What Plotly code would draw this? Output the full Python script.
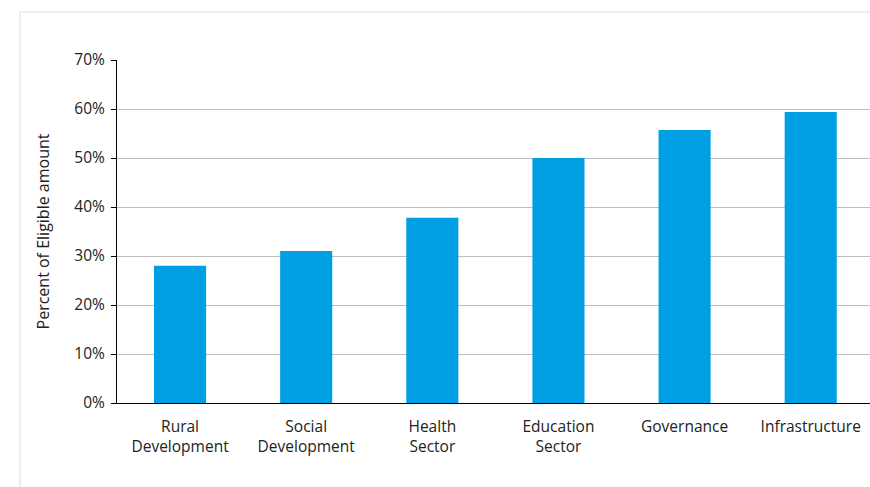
import plotly.graph_objects as go

categories = ["Rural<br>Development", "Social<br>Development", "Health<br>Sector",
              "Education<br>Sector", "Governance", "Infrastructure"]
values = [0.28, 0.31, 0.378, 0.50, 0.557, 0.594]
y_ticks = [0, 0.1, 0.2, 0.3, 0.4, 0.5, 0.6, 0.7]
y_tick_labels = ["0%", "10%", "20%", "30%", "40%", "50%", "60%", "70%"]

fig = go.Figure(go.Bar(x=list(range(len(categories))), y=values,
                       marker=dict(color="#009FE3", line_width=0), width=0.413))

W, H = 870, 487
L, R, T, B = 117, 0, 60, 84
pw, ph = W - L - R, H - T - B

fig.update_layout(
    width=W, height=H,
    margin=dict(l=L, r=R, t=T, b=B),
    paper_bgcolor="white", plot_bgcolor="white",
    font=dict(family="Open Sans", size=15.5, color="#222222"),
    showlegend=False,
    xaxis=dict(range=[-0.5, 5.47], tickvals=list(range(len(categories))), ticktext=categories,
               showline=True, linecolor="#000000", linewidth=1, ticks="",
               tickfont=dict(size=15.5, color="#222222"), ticklabelstandoff=9,
               showgrid=False, zeroline=False),
    yaxis=dict(range=[0, 0.7], tickvals=y_ticks, ticktext=y_tick_labels,
               showline=True, linecolor="#000000", linewidth=1,
               ticks="outside", ticklen=5, tickcolor="#000000",
               ticklabelstandoff=3,
               showgrid=True, gridcolor="#bfbfbf", gridwidth=1,
               zeroline=False, tickfont=dict(size=15.5, color="#222222"),
               title=dict(text="Percent of Eligible amount", font=dict(size=16, color="#222222"),
                          standoff=20)),
    shapes=[dict(type="rect", xref="paper", yref="paper",
                 x0=(20 - L) / pw, x1=1.2,
                 y0=-0.5, y1=1 + (T - 12) / ph,
                 line=dict(color="#dcdcdc", width=1), fillcolor="rgba(0,0,0,0)", layer="below")],
)

fig.write_html("out.html")
